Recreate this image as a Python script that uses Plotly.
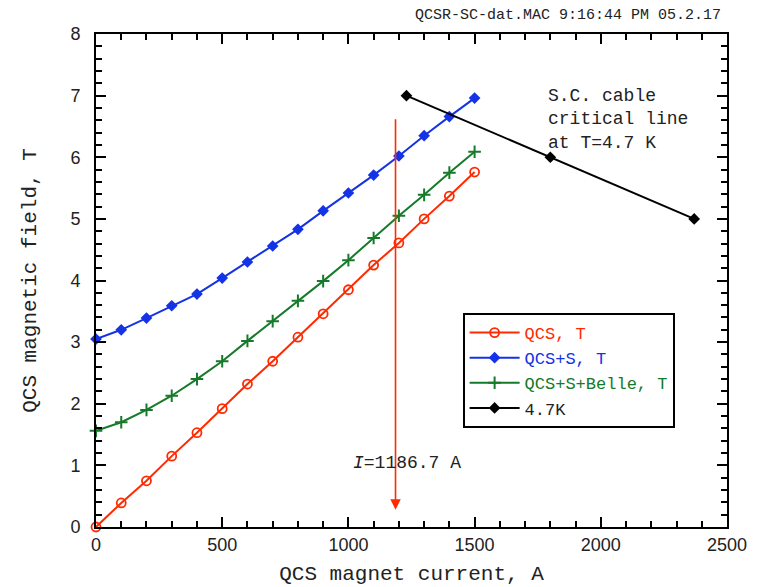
import plotly.graph_objects as go

current = [0, 100, 200, 300, 400, 500, 600, 700, 800, 900, 1000, 1100, 1200, 1300, 1400, 1500]
qcs_t = [0.0, 0.39, 0.75, 1.15, 1.53, 1.92, 2.32, 2.69, 3.08, 3.46, 3.85, 4.25, 4.61, 5.0, 5.37, 5.76]
qcs_s_t = [3.05, 3.2, 3.39, 3.59, 3.78, 4.04, 4.3, 4.56, 4.83, 5.13, 5.42, 5.71, 6.02, 6.35, 6.66, 6.96]
qcs_s_belle_t = [1.56, 1.7, 1.9, 2.13, 2.4, 2.69, 3.02, 3.34, 3.67, 3.99, 4.33, 4.69, 5.05, 5.39, 5.75, 6.09]
crit_current = [1230, 1800, 2370]
crit_field = [7.0, 6.0, 5.0]
op_current = 1186.7
op_field_range = [6.64, 0.28]

X_RANGE = [0, 2500]
Y_RANGE = [0, 8]

RED = "#FF2A00"
BLUE = "#1432E6"
GREEN = "#157A2A"
BLACK = "#000000"
MONO = "Liberation Mono, Courier New, monospace"
SANS = "Liberation Sans, Helvetica, Arial, sans-serif"

fig = go.Figure()
fig.add_trace(go.Scatter(x=current, y=qcs_t, mode="lines+markers",
                         name=f"<span style='color:{RED}'>QCS, T</span>",
                         line=dict(color=RED, width=2),
                         marker=dict(symbol="circle-open", size=9, color=RED, line=dict(width=1.8)),
                         cliponaxis=False))
fig.add_trace(go.Scatter(x=current, y=qcs_s_t, mode="lines+markers",
                         name=f"<span style='color:{BLUE}'>QCS+S, T</span>",
                         line=dict(color=BLUE, width=2),
                         marker=dict(symbol="diamond", size=9, color=BLUE),
                         cliponaxis=False))
fig.add_trace(go.Scatter(x=current, y=qcs_s_belle_t, mode="lines+markers",
                         name=f"<span style='color:{GREEN}'>QCS+S+Belle, T</span>",
                         line=dict(color=GREEN, width=2),
                         marker=dict(symbol="cross-thin", size=9, color=GREEN, line=dict(width=2, color=GREEN)),
                         cliponaxis=False))
fig.add_trace(go.Scatter(x=crit_current, y=crit_field, mode="lines+markers",
                         name="4.7K",
                         line=dict(color=BLACK, width=2),
                         marker=dict(symbol="diamond", size=9, color=BLACK)))

fig.add_annotation(x=op_current, y=op_field_range[1], ax=op_current, ay=op_field_range[0],
                   xref="x", yref="y", axref="x", ayref="y", text="", showarrow=True,
                   arrowhead=2, arrowsize=1.3, arrowwidth=1.6, arrowcolor=RED)
fig.add_annotation(x=1232, y=1.04, xref="x", yref="y", text="<i>I</i>=1186.7 A",
                   showarrow=False, font=dict(family=MONO, size=18, color="#222"))
fig.add_annotation(x=1783, y=6.62, xref="x", yref="y",
                   text="S.C. cable<br>critical line<br>at T=4.7 K",
                   showarrow=False, xanchor="left", align="left",
                   font=dict(family=MONO, size=18, color="#222"))
fig.add_annotation(x=1.0, y=1.0, xref="paper", yref="paper", yanchor="bottom", xanchor="right",
                   yshift=8, xshift=-4,
                   text="QCSR-SC-dat.MAC 9:16:44 PM 05.2.17", showarrow=False,
                   font=dict(family=MONO, size=15, color="#222"))

axis_common = dict(showline=True, linewidth=2, linecolor="black", mirror="ticks",
                   ticks="inside", ticklen=10, tickwidth=2, tickcolor="black",
                   showgrid=False, zeroline=False, automargin=False, tickmode="linear", tick0=0,
                   tickfont=dict(family=SANS, size=18, color="#222"))

fig.update_layout(
    xaxis=dict(range=X_RANGE, dtick=500,
               minor=dict(ticks="inside", ticklen=6, tickwidth=2, tickcolor="black",
                          dtick=100, tick0=0, showgrid=False),
               title=dict(text="QCS magnet current, A", font=dict(family=MONO, size=21, color="#222"), standoff=12),
               **axis_common),
    yaxis=dict(range=Y_RANGE, dtick=1,
               minor=dict(ticks="inside", ticklen=6, tickwidth=2, tickcolor="black",
                          dtick=0.2, tick0=0, showgrid=False),
               title=dict(text="QCS magnetic field, T", font=dict(family=MONO, size=21, color="#222"), standoff=28),
               ticklabelstandoff=10, **axis_common),
)

fig.update_layout(width=762, height=587, margin=dict(l=96, r=35, t=34, b=60),
                  plot_bgcolor="white", paper_bgcolor="white",
                  legend=dict(x=0.581, y=0.434, xanchor="left", yanchor="top",
                              bgcolor="white", bordercolor="black", borderwidth=2,
                              font=dict(family=MONO, size=17, color="#222"),
                              itemwidth=50, tracegroupgap=0),
                  showlegend=True)

fig.write_html("out.html")
